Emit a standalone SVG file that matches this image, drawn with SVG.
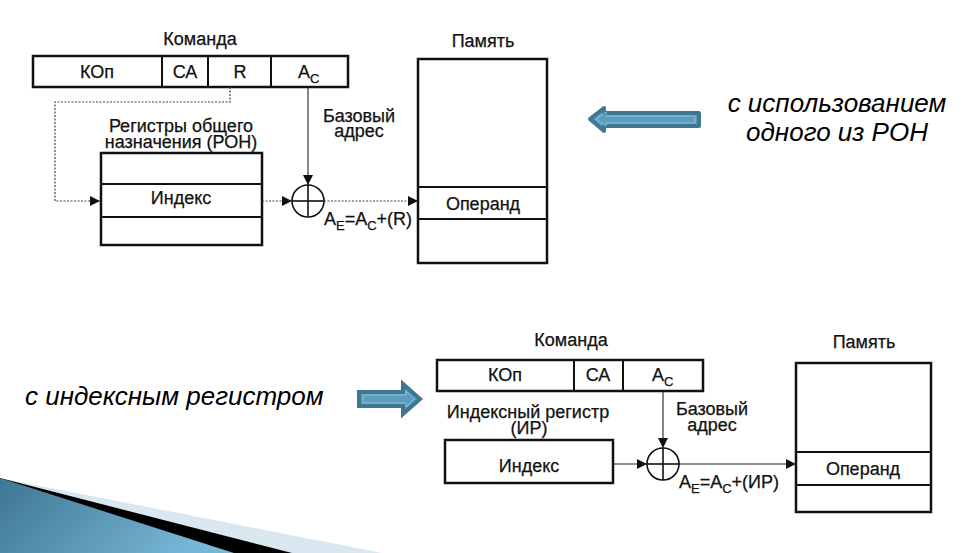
<svg xmlns="http://www.w3.org/2000/svg" width="979" height="553" viewBox="0 0 979 553">
  <defs>
    <style>
      .t { font-family: "Liberation Sans", Arial, sans-serif; font-size: 18px; fill: #111; stroke: #111; stroke-width: 0.25; }
      .c { text-anchor: middle; }
      .sub { font-size: 13px; }
      .it { font-family: "Liberation Sans", Arial, sans-serif; font-style: italic; font-size: 26px; fill: #000; }
      .box { fill: #fff; stroke: #111; stroke-width: 2.5; }
      .div { stroke: #111; stroke-width: 2; }
      .dot { fill: none; stroke: #444; stroke-width: 1.2; stroke-dasharray: 2 1.5; }
      .ln { fill: none; stroke: #222; stroke-width: 1.1; }
      .sum { fill: none; stroke: #111; stroke-width: 1.6; }
      .barrow { fill: #5b9dbd; stroke: #3f7690; stroke-width: 4; stroke-linejoin: round; }
      .barrow-in { fill: none; stroke: #8cc0d8; stroke-width: 1; }
    </style>
    <marker id="ah" viewBox="0 0 10 10" refX="10" refY="5" markerWidth="10" markerHeight="10" markerUnits="userSpaceOnUse" orient="auto">
      <path d="M0,0 L10,5 L0,10 Z" fill="#111"/>
    </marker>
    <linearGradient id="wedge" x1="0" y1="0" x2="1" y2="0.3">
      <stop offset="0" stop-color="#3d7693"/>
      <stop offset="1" stop-color="#77b6d6"/>
    </linearGradient>
  </defs>

  <rect width="979" height="553" fill="#fff"/>

  <!-- decorative corner wedge -->
  <g id="corner">
    <polygon points="0,478 382,553 0,553" fill="#d9e8f0"/>
    <polygon points="0,478 292,553 0,553" fill="#000"/>
    <polygon points="0,478 234,553 0,553" fill="url(#wedge)"/>
  </g>

  <!-- ===== upper scheme: addressing through a general purpose register ===== -->
  <text class="t c" x="200" y="45">Команда</text>
  <g id="cmd1">
    <rect class="box" x="33" y="56" width="315" height="31"/>
    <line class="div" x1="162" y1="56" x2="162" y2="87"/>
    <line class="div" x1="208" y1="56" x2="208" y2="87"/>
    <line class="div" x1="271" y1="56" x2="271" y2="87"/>
    <text class="t c" x="97" y="78">КОп</text>
    <text class="t c" x="185" y="78">СА</text>
    <text class="t c" x="240" y="78">R</text>
    <text class="t" x="298" y="78">A<tspan class="sub" dy="5">C</tspan></text>
  </g>

  <g id="ron">
    <text class="t c" x="181" y="132">Регистры общего<tspan x="181" dy="16">назначения (РОН)</tspan></text>
    <rect class="box" x="101" y="153" width="161" height="92"/>
    <line class="div" x1="101" y1="184" x2="262" y2="184"/>
    <line class="div" x1="101" y1="217" x2="262" y2="217"/>
    <text class="t c" x="181" y="204">Индекс</text>
  </g>

  <g id="adder1">
    <circle class="sum" cx="308" cy="201" r="16"/>
    <line class="sum" x1="292" y1="201" x2="324" y2="201"/>
    <line class="sum" x1="308" y1="185" x2="308" y2="217"/>
  </g>

  <g id="base1">
    <text class="t c" x="359" y="122">Базовый<tspan x="359" dy="15">адрес</tspan></text>
  </g>

  <g id="ea1">
    <text class="t" x="324" y="225">A<tspan class="sub" dy="5">E</tspan><tspan dy="-5">=A</tspan><tspan class="sub" dy="5">C</tspan><tspan dy="-5">+(R)</tspan></text>
  </g>

  <g id="mem1">
    <text class="t c" x="483" y="47">Память</text>
    <rect class="box" x="418" y="59" width="129" height="204"/>
    <line class="div" x1="418" y1="187" x2="547" y2="187"/>
    <line class="div" x1="418" y1="219" x2="547" y2="219"/>
    <text class="t c" x="483" y="210">Операнд</text>
  </g>

  <!-- ===== lower scheme: addressing through the index register ===== -->
  <text class="t c" x="571" y="346">Команда</text>
  <g id="cmd2">
    <rect class="box" x="437" y="360" width="266" height="31"/>
    <line class="div" x1="574" y1="360" x2="574" y2="391"/>
    <line class="div" x1="623" y1="360" x2="623" y2="391"/>
    <text class="t c" x="505" y="381">КОп</text>
    <text class="t c" x="598" y="381">СА</text>
    <text class="t" x="652" y="381">A<tspan class="sub" dy="5">C</tspan></text>
  </g>

  <g id="ir">
    <text class="t c" x="528" y="418">Индексный регистр<tspan x="529" dy="16">(ИР)</tspan></text>
    <rect class="box" x="445" y="440" width="168" height="43"/>
    <text class="t c" x="529" y="472">Индекс</text>
  </g>

  <g id="adder2">
    <circle class="sum" cx="663" cy="464" r="16"/>
    <line class="sum" x1="647" y1="464" x2="679" y2="464"/>
    <line class="sum" x1="663" y1="448" x2="663" y2="480"/>
  </g>

  <g id="base2">
    <text class="t c" x="712" y="415">Базовый<tspan x="712" dy="16">адрес</tspan></text>
  </g>

  <g id="ea2">
    <text class="t" x="679" y="488">A<tspan class="sub" dy="5">E</tspan><tspan dy="-5">=A</tspan><tspan class="sub" dy="5">C</tspan><tspan dy="-5">+(ИР)</tspan></text>
  </g>

  <g id="mem2">
    <text class="t c" x="864" y="348">Память</text>
    <rect class="box" x="796" y="363" width="135" height="149"/>
    <line class="div" x1="796" y1="452" x2="931" y2="452"/>
    <line class="div" x1="796" y1="485" x2="931" y2="485"/>
    <text class="t c" x="863" y="475">Операнд</text>
  </g>

  <!-- connectors -->
  <g id="connectors">
    <path class="dot" d="M230,87 V102 H55 V201 H100" marker-end="url(#ah)"/>
    <path class="dot" d="M262,201 H292" marker-end="url(#ah)"/>
    <path class="ln" d="M308,87 V185" marker-end="url(#ah)"/>
    <path class="dot" d="M324,201 H418" marker-end="url(#ah)"/>

    <path class="ln" d="M613,464 H647" marker-end="url(#ah)"/>
    <path class="ln" d="M663,391 V448" marker-end="url(#ah)"/>
    <path class="ln" d="M679,464 H796" marker-end="url(#ah)"/>
  </g>

  <!-- captions with pointer arrows -->
  <g id="caption-ron">
    <path class="barrow" d="M590,119 L604,108 V113 H699 V126 H604 V131 Z"/>
    <path class="barrow-in" d="M596,119 L606,112 V116 H695 V123 H606 V126 Z"/>
    <text class="it c" x="837" y="112">с использованием<tspan x="837" dy="29">одного из РОН</tspan></text>
  </g>

  <g id="caption-ir">
    <path class="barrow" d="M359,392 H403 V384 L420,399 L403,414 V406 H359 Z" style="stroke-linejoin:miter"/>
    <path class="barrow-in" d="M363,395 H406 V391 L414,399 L406,407 V403 H363 Z"/>
    <text class="it" x="25" y="405">с индексным регистром</text>
  </g>
</svg>
